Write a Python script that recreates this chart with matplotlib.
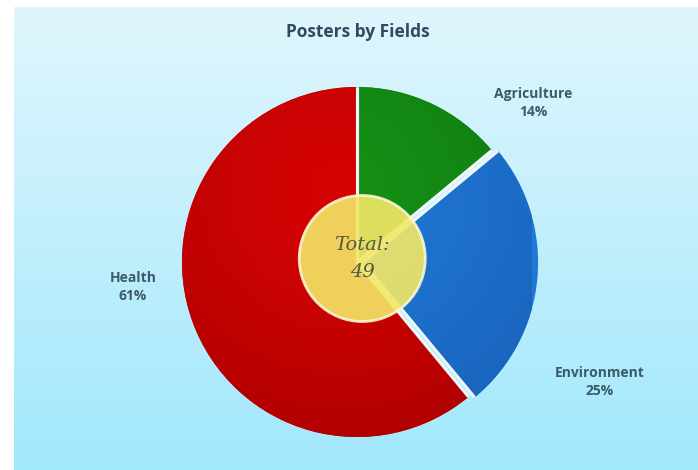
import numpy as np
import matplotlib
matplotlib.use("Agg")
import matplotlib.pyplot as plt
from matplotlib.patches import Circle

# Data
fields = ["Agriculture", "Environment", "Health"]
shares = [14, 25, 61]          # percent of posters
total_posters = 49
slice_colors = ["#169016", "#2078d6", "#d60303"]
slice_dark = ["#0c700c", "#1760b8", "#a80000"]
explode = [0.0, 0.035, 0.0]

W, H = 698, 470
fig = plt.figure(figsize=(W / 100, H / 100), dpi=100)
fig.patch.set_facecolor("white")

# Light blue gradient panel
bg = fig.add_axes([14 / W, 0, 1 - 14 / W, 1 - 7 / H])
bg.set_axis_off()
top = np.array([0xe0, 0xf6, 0xfd]) / 255
bot = np.array([0xa2, 0xe8, 0xfc]) / 255
t = np.linspace(0, 1, 256)[:, None]
rows = (top[None, :] * (1 - t) + bot[None, :] * t)[:, None, :]
bg.imshow(np.repeat(rows, 4, axis=1), aspect="auto", extent=[0, 1, 0, 1], origin="upper")

# Pie
cx, cy, R = 357, 262, 175
ax = fig.add_axes([(cx - R) / W, 1 - (cy + R) / H, 2 * R / W, 2 * R / H])
ax.set_axis_off()
wedges, _ = ax.pie(shares, colors=slice_colors, startangle=90, counterclock=False,
                   explode=explode, radius=1.0,
                   wedgeprops=dict(edgecolor="none", linewidth=0))
ax.set_xlim(-1, 1)
ax.set_ylim(-1, 1)
ax.set_aspect("equal")

# Shading inside each wedge
yy, xx = np.mgrid[1.1:-1.1:300j, -1.1:1.1:300j]
rr = np.hypot(xx + 0.1, yy - 0.4)
shade = np.clip(rr / 1.7, 0, 1) ** 1.3
for w, c, d in zip(wedges, slice_colors, slice_dark):
    c1 = np.array(matplotlib.colors.to_rgb(c))
    c2 = np.array(matplotlib.colors.to_rgb(d))
    img = c1[None, None, :] * (1 - shade[..., None]) + c2[None, None, :] * shade[..., None]
    im = ax.imshow(img, extent=[-1.1, 1.1, -1.1, 1.1], zorder=w.get_zorder() + 0.1)
    im.set_clip_path(w)
    # white separators along the straight sides of each slice
    for ang in (w.theta1, w.theta2):
        a = np.deg2rad(ang)
        x0, y0 = w.center
        ax.plot([x0, x0 + w.r * np.cos(a)], [y0, y0 + w.r * np.sin(a)],
                color="#eef8fb", lw=2.2, solid_capstyle="butt",
                zorder=w.get_zorder() + 0.2)

# Center disc with total
disc = Circle((0.03, 0.02), 0.36, facecolor="#f3e866", alpha=0.9,
              edgecolor="#fbf6d0", linewidth=2, zorder=5)
ax.add_patch(disc)
ax.text(0.03, 0.02, f"Total:\n{total_posters}", ha="center", va="center",
        fontsize=14, style="italic", family="DejaVu Serif", color="#555a48",
        linespacing=1.6, zorder=6)

# Slice labels
label_pos = {"Agriculture": (533, 103), "Environment": (600, 382), "Health": (133, 287)}
for name, val in zip(fields, shares):
    x, y = label_pos[name]
    fig.text(x / W, 1 - y / H, f"{name}\n{val}%", ha="center", va="center",
             fontsize=10, fontweight="bold", family="Open Sans", color="#3b5a6a",
             linespacing=1.4)

fig.text(358 / W, 1 - 32 / H, "Posters by Fields", ha="center", va="center",
         fontsize=12.5, fontweight="bold", family="Open Sans", color="#2f4b5c")

fig.savefig("out.png", dpi=100, facecolor=fig.get_facecolor())
